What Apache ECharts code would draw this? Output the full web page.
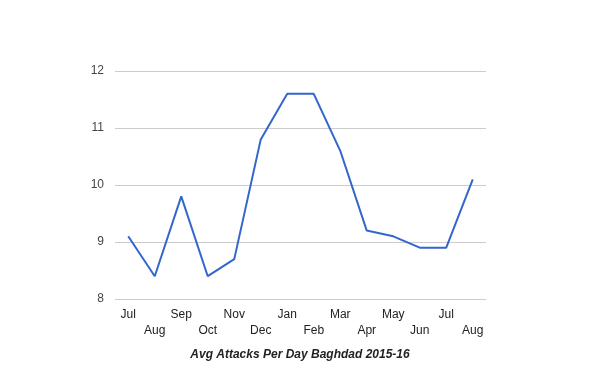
<!DOCTYPE html>
<html><head><meta charset="utf-8">
<script src="https://cdn.jsdelivr.net/npm/echarts@6/dist/echarts.min.js"></script>
<style>html,body{margin:0;padding:0;background:#fff}#c{width:600px;height:371px}</style>
</head><body><div id="c"></div>
<script>
const categories = ['Jul','Aug','Sep','Oct','Nov','Dec','Jan','Feb','Mar','Apr','May','Jun','Jul','Aug'];
const values = [9.1, 8.4, 9.8, 8.4, 8.7, 10.8, 11.6, 11.6, 10.6, 9.2, 9.1, 8.9, 8.9, 10.1];
const titleText = 'Avg Attacks Per Day Baghdad 2015-16';
const yTicks = [8, 9, 10, 11, 12];

const chart = echarts.init(document.getElementById('c'), null, {renderer: 'canvas'});
chart.setOption({
  animation: false,
  title: {
    text: titleText, left: 'center', top: 344,
    textStyle: {fontFamily: 'Liberation Sans, Arial, sans-serif', fontSize: 12, fontWeight: 'bold', fontStyle: 'italic', color: '#222'}
  },
  grid: {left: 115, right: 114, top: 71, bottom: 72},
  xAxis: {
    type: 'category', data: categories, boundaryGap: true,
    axisLine: {show: false}, axisTick: {show: false},
    axisLabel: {
      interval: 0, margin: 8, color: '#222', fontSize: 12, lineHeight: 16,
      fontFamily: 'Liberation Sans, Arial, sans-serif',
      formatter: (v, i) => (i % 2 ? '\n' + v : v)
    }
  },
  yAxis: {
    type: 'value', min: yTicks[0], max: yTicks[yTicks.length - 1], interval: 1,
    axisLine: {show: false}, axisTick: {show: false},
    axisLabel: {color: '#444', fontSize: 12, margin: 11, fontFamily: 'Liberation Sans, Arial, sans-serif'},
    splitLine: {lineStyle: {color: '#cccccc', width: 1}}
  },
  series: [{
    type: 'line', data: values, symbol: 'none',
    lineStyle: {color: '#3366cc', width: 2}
  }]
});
</script></body></html>
